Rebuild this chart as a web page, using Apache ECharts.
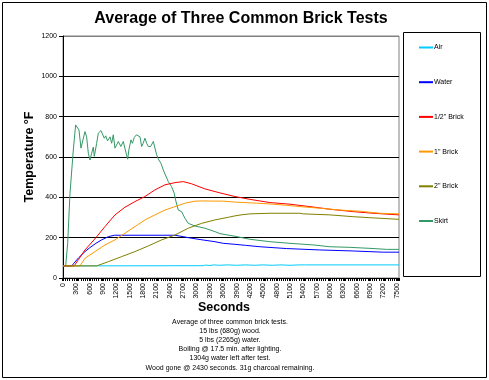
<!DOCTYPE html>
<html><head><meta charset="utf-8">
<script src="https://cdn.jsdelivr.net/npm/echarts@6/dist/echarts.min.js"></script>
<style>html,body{margin:0;padding:0;background:#fff}#c{width:489px;height:380px}</style>
</head><body><div id="c"></div>
<script>
var seriesNames = ['Air', 'Water', '1/2" Brick', '1" Brick', '2" Brick', 'Skirt'];
var xTicks = [0, 7500, 300]; // min, last label, step (seconds)
var yTicks = [0, 1200, 200];
var air = [[0,60],[3150,61],[3200,64],[3300,62],[3400,65],[3500,63],[3700,65],[3900,63],[4100,65],[4300,63],[4500,65],[4700,63],[4900,65],[5100,63],[5300,65],[5450,65],[7550,65]];
var water = [[0,60],[200,60],[232,70],[350,100],[494,131],[600,150],[740,172],[868,189],[1018,205],[1153,212],[2515,212],[2700,205],[2815,200],[3100,190],[3414,180],[3600,172],[3863,167],[4100,162],[4425,155],[5024,146],[5772,139],[6521,134],[7194,128],[7550,128]];
var brickHalf = [[0,60],[250,60],[350,92],[494,139],[740,200],[943,255],[1168,313],[1392,351],[1617,379],[1842,404],[2066,437],[2291,462],[2515,473],[2702,478],[2890,467],[3189,442],[3526,422],[3863,404],[4200,390],[4649,374],[5098,366],[5548,354],[5997,341],[6521,329],[6970,321],[7550,313]];
var brickOne = [[0,60],[382,60],[494,98],[719,131],[943,164],[1168,189],[1392,222],[1617,255],[1842,288],[2066,313],[2291,337],[2515,354],[2740,371],[2964,381],[3100,382],[3600,381],[3900,376],[4350,371],[4724,366],[5000,361],[5323,354],[5772,346],[6221,337],[6671,331],[7120,321],[7550,318]];
var brickTwo = [[0,60],[756,60],[1018,81],[1318,106],[1617,131],[1917,159],[2216,189],[2515,213],[2815,247],[3114,271],[3414,288],[3713,301],[3863,308],[4000,313],[4200,318],[4649,321],[5323,321],[5398,318],[5997,313],[6521,304],[6970,298],[7550,291]];
var skirt = [[0,60],[60,60],[105,172],[157,420],[232,635],[284,759],[310,768],[359,734],[404,644],[434,640],[494,726],[531,700],[569,619],[606,585],[644,619],[681,649],[703,603],[733,595],[756,668],[793,718],[853,731],[883,726],[928,693],[960,705],[1000,680],[1056,700],[1093,668],[1130,710],[1168,644],[1200,635],[1243,677],[1300,652],[1355,677],[1400,635],[1453,589],[1480,635],[1527,685],[1560,668],[1602,697],[1650,710],[1692,715],[1730,700],[1767,652],[1800,668],[1842,693],[1880,668],[1917,652],[1970,652],[2029,677],[2060,673],[2104,611],[2150,586],[2201,569],[2253,536],[2290,528],[2365,478],[2440,453],[2500,420],[2530,387],[2590,337],[2665,329],[2740,296],[2815,271],[2964,258],[3189,247],[3414,230],[3526,220],[3863,207],[4200,192],[4649,180],[5098,172],[5622,164],[5997,155],[6446,152],[6895,147],[7270,142],[7550,142]];
var notes = ['Average of three common brick tests.', '15 lbs (680g) wood.', '5 lbs (2265g) water.', 'Boiling @ 17.5 min. after lighting.', '1304g water left after test.', 'Wood gone @ 2430 seconds. 31g charcoal remaining.'];
var colors = ['#00CCFF', '#0000FF', '#FF0000', '#FF9900', '#808000', '#339966'];
var allData = [air, water, brickHalf, brickOne, brickTwo, skirt];

var F = '"Liberation Sans", Arial, sans-serif';
var chart = echarts.init(document.getElementById('c'));
chart.setOption({
  animation: false,
  backgroundColor: '#fff',
  textStyle: {fontFamily: F, color: '#000'},
  title: [
    {text: 'Average of Three Common Brick Tests', left: 241, top: 11, textAlign: 'center', padding: 0,
     textStyle: {fontFamily: F, fontSize: 16, fontWeight: 'bold', color: '#000'}},
    {text: notes.join('\n'), left: 230, top: 317, textAlign: 'center', padding: 0,
     textStyle: {fontFamily: F, fontSize: 7, fontWeight: 'normal', color: '#000', lineHeight: 9.2}}
  ],
  graphic: [
    {type: 'rect', shape: {x: 2.5, y: 2.5, width: 484, height: 375}, style: {fill: 'none', stroke: '#000', lineWidth: 1}, silent: true},
    {type: 'rect', shape: {x: 403.5, y: 32.5, width: 77, height: 244}, style: {fill: 'none', stroke: '#000', lineWidth: 1}, silent: true}
  ],
  legend: {
    orient: 'vertical', left: 419, top: 44, itemWidth: 14, itemHeight: 2, itemGap: 27.7,
    padding: 0, icon: 'rect',
    textStyle: {fontFamily: F, fontSize: 7, color: '#000', padding: [0, 0, 0, -4]},
    data: seriesNames
  },
  grid: {left: 63, right: 90, top: 36, bottom: 102, show: true, borderColor: '#808080', borderWidth: 1, containLabel: false},
  xAxis: {
    type: 'value', min: xTicks[0], max: 7550, interval: xTicks[2],
    name: 'Seconds', nameLocation: 'middle', nameGap: 23, nameMoveOverlap: false,
    nameTextStyle: {fontFamily: F, fontSize: 12.5, fontWeight: 'bold', color: '#000', padding: [0, 14, 0, 0]},
    axisLine: {show: true, lineStyle: {color: '#000', width: 1}},
    axisTick: {show: true, length: 3, lineStyle: {color: '#000', width: 2}},
    minorTick: {show: true, splitNumber: 6, length: 3, lineStyle: {color: '#000', width: 1}},
    splitLine: {show: false},
    axisLabel: {rotate: 90, fontSize: 7, color: '#000', margin: 5, showMaxLabel: false,
      formatter: function (v) { return v <= xTicks[1] ? String(v) : ''; }}
  },
  yAxis: {
    type: 'value', min: yTicks[0], max: yTicks[1], interval: yTicks[2],
    name: 'Temperature °F', nameLocation: 'middle', nameGap: 27, nameMoveOverlap: false,
    nameTextStyle: {fontFamily: F, fontSize: 12.5, fontWeight: 'bold', color: '#000'},
    axisLine: {show: true, lineStyle: {color: '#000', width: 1}},
    axisTick: {show: true, length: 4, lineStyle: {color: '#000'}},
    splitLine: {show: true, lineStyle: {color: ['#000', '#000', '#000', '#000', '#000', '#000', '#808080'], width: 1}},
    axisLabel: {fontSize: 7, color: '#000', margin: 6, formatter: function (v) { return String(v); }}
  },
  series: seriesNames.map(function (n, i) {
    return {name: n, type: 'line', data: allData[i], showSymbol: false, symbol: 'none',
      lineStyle: {color: colors[i], width: 1}, itemStyle: {color: colors[i]}, z: 2 + (i === 5 ? 0 : i)};
  })
});
</script></body></html>
